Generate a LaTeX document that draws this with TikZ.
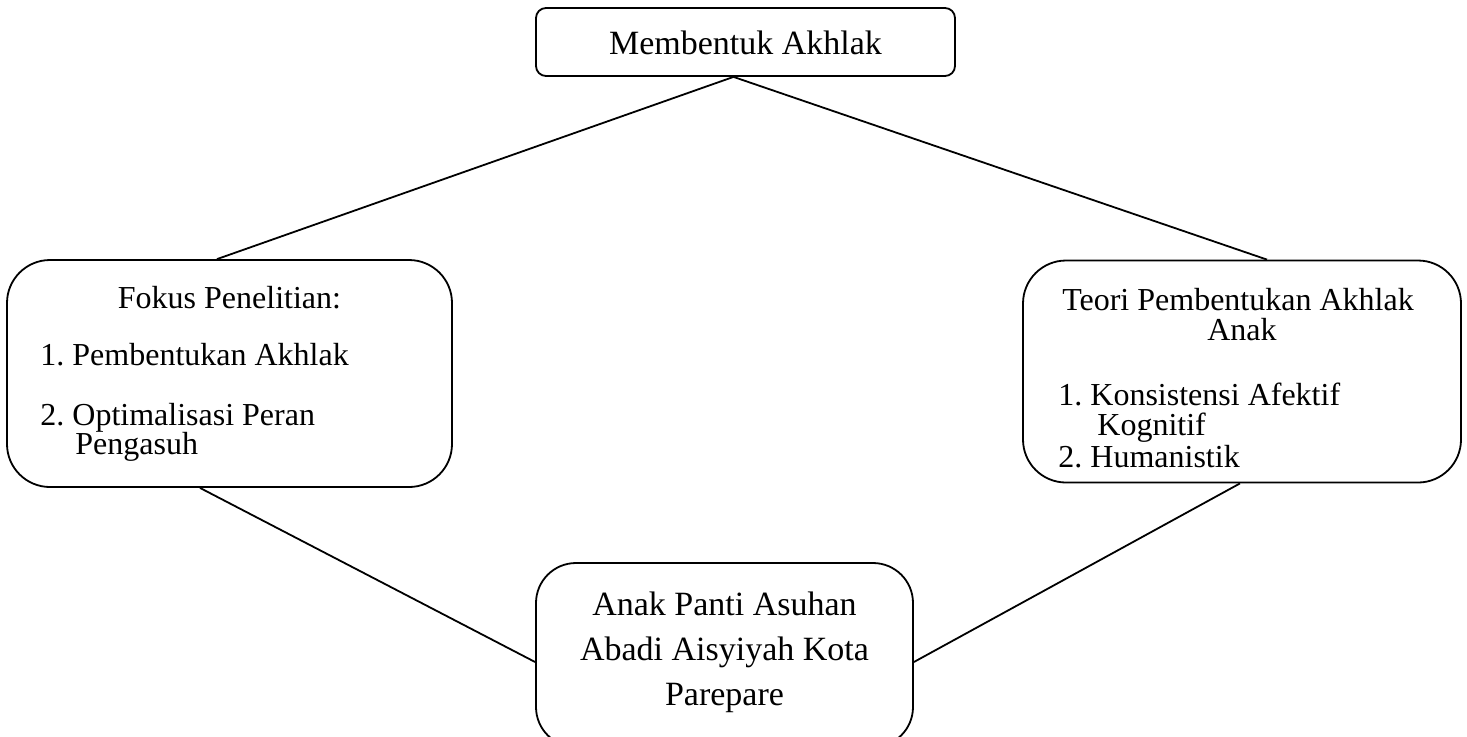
\documentclass[tikz,border=0pt]{standalone}
\usepackage{fontspec}
\setmainfont{Liberation Serif}
\usetikzlibrary{calc}
\begin{document}
\begin{tikzpicture}[x=0.5pt,y=-0.5pt,
  box/.style={draw,line width=0.9pt,inner sep=0pt},
  link/.style={line width=0.9pt},
  big/.style={font=\fontsize{17}{20}\selectfont\frenchspacing,inner sep=0pt},
  mid/.style={font=\fontsize{16}{19}\selectfont\frenchspacing,inner sep=0pt}]
\useasboundingbox (0,0) rectangle (1467,736);
% boxes
\node[box,rounded corners=5pt,minimum width=209.5pt,minimum height=34pt] (T) at (745.5,42) {};
\node[box,rounded corners=21.5pt,minimum width=222.5pt,minimum height=113.5pt] (L) at (229.5,373.5) {};
\node[box,rounded corners=21.5pt,minimum width=219pt,minimum height=111pt] (R) at (1242,371.5) {};
\node[box,rounded corners=20pt,minimum width=188.5pt,minimum height=92pt] (B) at (724.5,655) {};
% texts
\node[big,anchor=base] (t1) at (745.5,54) {Membentuk Akhlak};
\node[mid,anchor=base] (l1) at (229.5,308) {Fokus Penelitian:};
\node[mid,anchor=base west] (l2) at (40,365) {1. Pembentukan Akhlak};
\node[mid,anchor=base west] (l3) at (40,425) {2. Optimalisasi Peran};
\node[mid,anchor=base west] (l4) at (75,454) {Pengasuh};
\node[mid,anchor=base] (r1) at (1238,310) {Teori Pembentukan Akhlak};
\node[mid,anchor=base] (r2) at (1242,340) {Anak};
\node[mid,anchor=base west] (r3) at (1058,405) {1. Konsistensi Afektif};
\node[mid,anchor=base west] (r4) at (1097,435) {Kognitif};
\node[mid,anchor=base west] (r5) at (1058,467) {2. Humanistik};
\node[big,anchor=base] (b1) at (724.5,615) {Anak Panti Asuhan};
\node[big,anchor=base] (b2) at (724.5,660) {Abadi Aisyiyah Kota};
\node[big,anchor=base] (b3) at (724.5,705) {Parepare};
% connectors
\draw[link] ([xshift=-6pt]T.south) -- ([xshift=-6.25pt]L.north);
\draw[link] ([xshift=-6pt]T.south) -- ([xshift=12.5pt]R.north);
\draw[link] ([xshift=-14.75pt]L.south) -- ([yshift=-3.5pt]B.west);
\draw[link] ([xshift=-1pt]R.south) -- ([yshift=-3.5pt]B.east);
\end{tikzpicture}
\end{document}
